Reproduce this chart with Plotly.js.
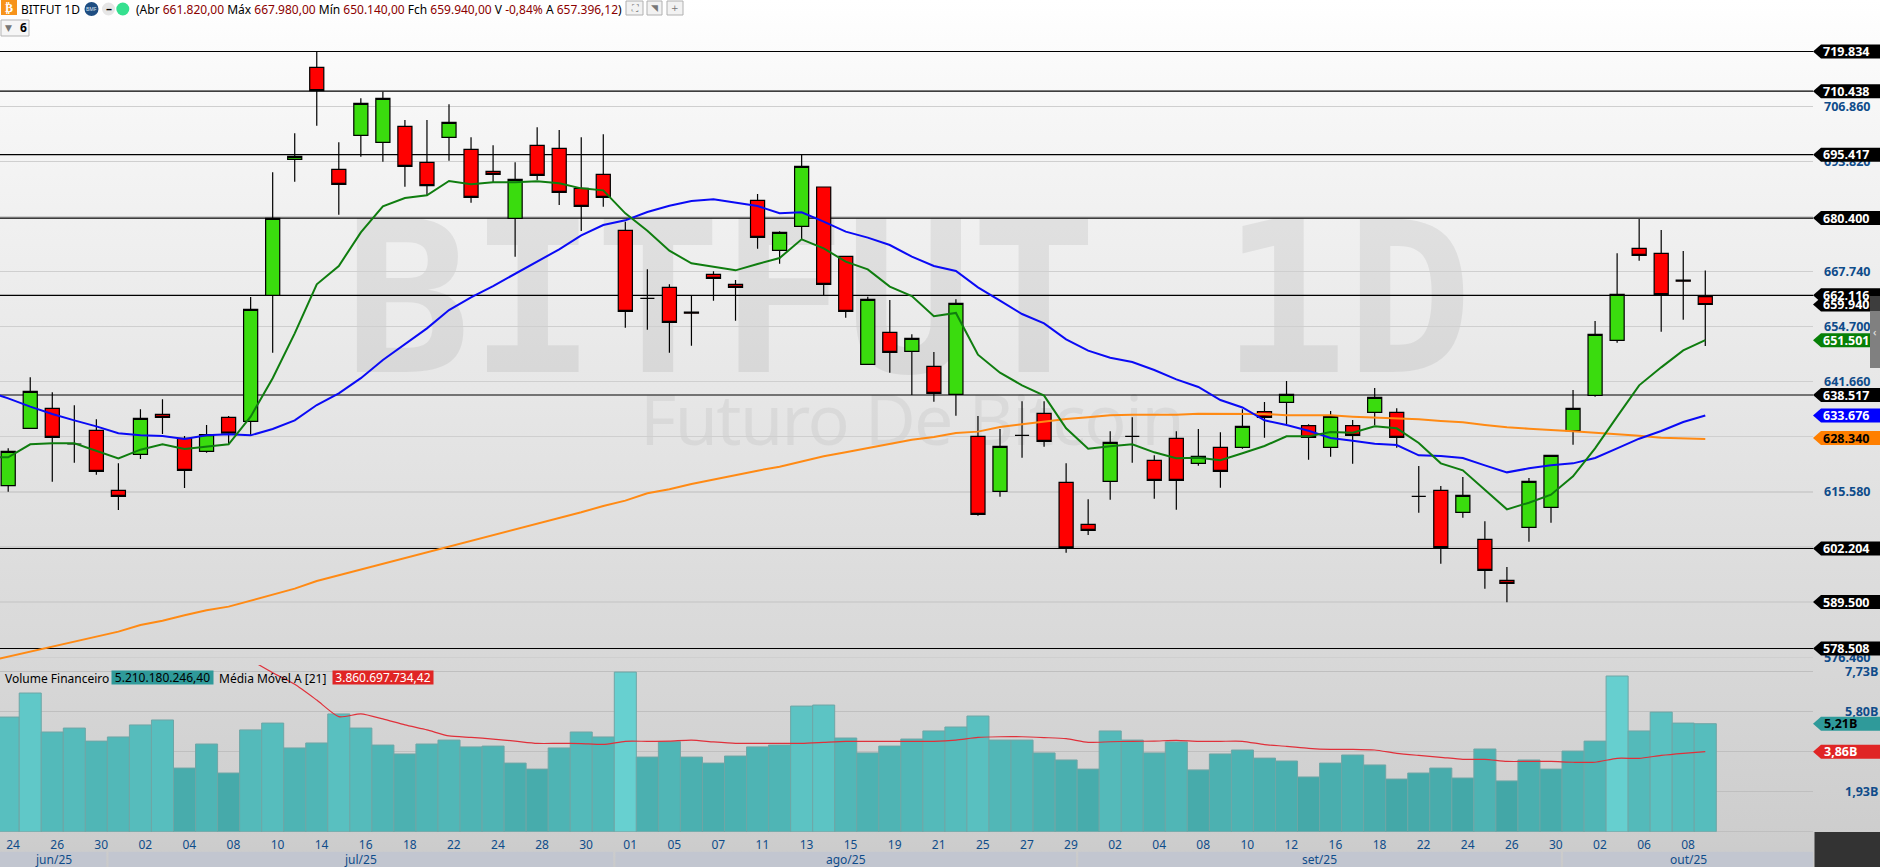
<!DOCTYPE html>
<html>
<head>
<meta charset="utf-8">
<script src="https://cdn.plot.ly/plotly-3.0.1.min.js"></script>
<style>
html,body{margin:0;padding:0;width:1880px;height:867px;overflow:hidden;background:linear-gradient(to bottom,#ffffff 0px,#f6f6f6 120px,#eeeeee 260px,#e4e4e4 440px,#d9d9d9 640px,#cdcdcd 840px,#cacaca 867px);}
#wm1,#wm2{position:absolute;white-space:nowrap;line-height:1;pointer-events:none;}
#wm1{left:344px;top:194px;font:bold 211px/1 "DejaVu Sans Mono";letter-spacing:-1.8px;color:rgba(0,0,0,0.065);}
#wm2{left:640px;top:383px;font:70px/1 "Noto Sans";letter-spacing:-1.65px;color:rgba(0,0,0,0.05);}
#chart{position:absolute;left:0;top:0;width:1880px;height:867px;}
</style>
</head>
<body>
<div id="wm1">BITFUT 1D</div>
<div id="wm2">Futuro De Bitcoin</div>
<div id="chart"></div>
<script>
const opens=[617.06,630.63,635.36,626.92,630.16,615.95,624.47,633.94,628.26,625.18,633.23,632.29,662.12,694.31,716.09,691.94,699.99,698.33,702.12,693.60,699.52,696.68,691.47,680.34,697.62,696.91,687.44,690.76,677.50,661.40,664.01,658.15,667.09,664.72,684.60,672.77,678.45,687.76,671.35,645.79,653.36,648.86,645.31,638.68,628.74,615.72,628.98,634.19,617.85,607.91,618.09,628.74,623.06,628.27,622.35,626.14,626.14,634.60,636.78,631.26,626.13,631.26,634.41,634.41,614.53,615.95,610.74,604.35,594.64,607.19,611.92,630.07,638.44,651.46,673.24,672.05,665.70,661.82];
const highs=[625.89,642.70,639.15,636.07,632.76,622.34,635.13,637.49,628.81,631.42,633.55,661.72,691.23,700.47,719.80,698.33,708.75,710.33,703.62,703.62,707.33,699.52,697.62,693.60,701.89,701.25,699.52,700.23,679.55,668.27,664.72,662.04,667.80,665.74,686.10,677.27,695.34,687.76,671.35,661.80,661.02,652.89,648.70,661.17,633.55,630.48,637.03,637.03,622.35,613.83,629.92,633.24,624.24,629.92,630.48,629.69,635.13,636.86,641.83,631.60,634.73,632.60,640.17,635.36,621.71,616.97,619.10,608.61,597.80,618.87,624.23,639.70,656.04,672.05,680.18,677.58,672.61,667.98];
const lows=[615.64,630.60,618.00,622.50,619.66,611.30,623.37,629.29,616.50,624.87,626.90,629.05,648.54,689.02,702.28,681.21,694.94,693.76,687.84,685.87,693.99,684.05,688.79,671.27,689.42,683.50,677.34,683.10,654.46,653.99,648.54,650.20,660.85,656.12,673.16,669.61,675.37,662.12,656.83,645.60,643.81,638.53,636.95,633.63,609.96,614.46,623.69,626.29,601.20,605.38,613.75,622.51,613.98,611.38,621.80,616.59,625.82,628.42,631.65,623.21,623.92,622.26,631.34,626.05,610.66,598.59,609.48,592.67,589.44,603.80,608.30,626.76,638.12,650.91,670.32,653.51,656.35,650.14];
const closes=[625.18,639.39,628.50,626.92,620.45,614.53,632.99,633.23,620.69,629.13,629.50,658.80,680.34,695.02,710.57,688.39,707.57,708.75,692.65,688.08,703.07,685.31,690.76,689.58,690.52,686.50,683.18,685.31,658.33,661.40,655.72,657.90,666.14,664.01,675.84,677.03,692.65,664.72,658.33,661.17,648.63,651.94,638.92,660.23,610.28,626.37,628.98,627.56,602.31,606.49,627.32,628.74,618.32,618.32,624.01,620.46,631.11,633.23,638.68,628.50,633.47,628.97,637.97,628.50,614.53,602.38,614.76,597.01,593.93,618.08,624.23,635.36,652.88,662.35,671.58,662.27,665.45,659.94];
// the three averages begin one session before the first visible candle
const maGreen=[623.76,623.76,626.84,627.08,627.08,625.26,623.53,625.58,626.84,625.74,626.37,626.84,633.39,642.50,653.12,664.72,669.06,677.03,683.18,685.16,685.79,689.18,688.39,688.87,688.87,689.10,688.63,687.44,686.97,681.53,677.42,672.69,669.69,668.90,668.03,669.53,670.95,675.37,673.24,670.08,668.27,664.17,661.96,657.15,657.94,648.07,643.81,640.81,638.37,630.63,625.82,626.37,626.85,624.95,623.53,623.69,623.06,624.72,626.45,628.73,628.73,629.76,629.60,631.10,630.63,627.15,622.34,620.68,616.03,611.45,613.03,614.92,619.26,625.89,633.39,640.81,645.07,649.09,651.50];
const maBlue=[639.47,637.73,635.76,634.02,632.52,631.10,629.45,628.97,628.81,628.10,628.97,629.21,628.97,630.47,632.52,636.15,638.91,642.50,646.81,650.50,654.30,658.64,661.64,664.32,667.17,670.08,673.00,676.32,678.76,679.87,681.84,683.34,684.45,684.84,684.13,683.26,681.53,681.76,679.55,677.19,675.77,674.03,671.27,669.06,667.87,664.00,660.85,657.70,655.49,651.70,649.02,647.36,646.34,644.44,642.23,640.42,637.34,635.56,632.52,631.41,630.07,628.34,627.71,627.00,626.68,624.23,624.08,623.60,621.87,620.21,621.16,621.87,622.34,623.60,625.89,628.18,629.99,632.12,633.68];
const maOrange=[575.40,576.58,577.77,578.87,580.21,581.39,582.50,584.08,585.10,586.37,587.55,588.42,589.84,591.34,592.68,594.49,595.83,597.26,598.68,599.86,601.28,602.70,603.96,605.30,606.72,607.99,609.33,610.75,612.25,613.51,615.25,616.19,617.46,618.56,619.51,620.61,621.56,622.82,624.01,624.95,625.98,626.93,627.95,628.58,629.53,629.85,630.95,631.58,632.21,632.84,633.24,633.71,633.87,633.87,633.87,634.11,634.11,634.11,634.02,633.70,633.70,633.70,633.39,633.23,632.99,632.76,632.36,632.05,631.41,630.86,630.55,630.15,629.92,629.60,629.29,628.89,628.42,628.26,628.10];
const volumes=[5.53,6.69,4.81,5.00,4.37,4.57,5.15,5.39,3.07,4.23,2.83,4.91,5.24,4.04,4.28,5.68,5.00,4.18,3.75,4.23,4.42,4.09,4.13,3.31,3.02,4.04,4.81,4.57,7.70,3.60,4.34,3.60,3.31,3.65,4.09,4.18,6.06,6.11,4.52,3.80,4.13,4.47,4.86,5.05,5.58,4.42,4.42,3.80,3.46,3.02,4.86,4.42,3.80,4.33,2.98,3.75,3.94,3.55,3.41,2.64,3.31,3.70,3.22,2.54,2.83,3.07,2.59,3.99,2.45,3.46,3.02,3.89,4.37,7.51,4.86,5.77,5.24,5.21];
const volMA=[null,null,null,null,null,null,null,null,null,null,null,8.28,7.67,7.11,6.35,5.55,5.68,5.44,5.15,4.91,4.62,4.55,4.47,4.37,4.26,4.26,4.25,4.21,4.36,4.36,4.37,4.42,4.33,4.26,4.26,4.26,4.26,4.31,4.36,4.36,4.36,4.36,4.36,4.42,4.55,4.58,4.58,4.54,4.49,4.31,4.34,4.36,4.37,4.41,4.36,4.36,4.36,4.20,4.12,4.02,3.97,3.97,3.94,3.78,3.68,3.59,3.49,3.49,3.39,3.39,3.39,3.35,3.35,3.54,3.54,3.68,3.78,3.86];
const dayLabels=["24","26","30","02","04","08","10","14","16","18","22","24","28","30","01","05","07","11","13","15","19","21","25","27","29","02","04","08","10","12","16","18","22","24","26","30","02","06","08"];
const monthLabels=["jun/25","jul/25","ago/25","set/25","out/25"];
const monthStarts=[0,5,28,49,71];
const priceTicks=[706.86,693.82,680.78,667.74,654.70,641.66,628.62,615.58,602.54,589.50,576.46];
const priceTickText=["706.860","693.820","","667.740","654.700","641.660","","615.580","","","576.460"];
const volTicks=[1.93,3.86,5.80,7.73];
const volTickText=["1,93B","","5,80B","7,73B"];
const levels=[719.834,710.438,695.417,680.4,662.116,638.517,602.204,589.5,578.508];
const levelText=["719.834","710.438","695.417","680.400","662.116","638.517","602.204","589.500","578.508"];

const W=1880,H=867,PW=1813,STEP=22.04,X0=8.2;
const px=v=>v/W, py=v=>1-v/H;
const idx=closes.map((_,i)=>i);
const lineX=[-1].concat(idx);
const blue='#0f4c8a';
const shapes=[],annotations=[];
const ann=(x,y,text,o={})=>annotations.push(Object.assign({xref:'paper',yref:'paper',x:px(x),y:py(y),text,showarrow:false,xanchor:'left',yanchor:'middle',borderpad:0,font:{family:'Noto Sans',size:12,color:'#000'}},o));
const rect=(x0,y0,x1,y1,fill,line)=>shapes.push({type:'rect',xref:'paper',yref:'paper',x0:px(x0),x1:px(x1),y0:py(y0),y1:py(y1),fillcolor:fill,line:line?{color:line,width:1}:{width:0},layer:'above'});
const circ=(cx,cy,r,fill)=>shapes.push({type:'circle',xref:'paper',yref:'paper',x0:px(cx-r),x1:px(cx+r),y0:py(cy-r),y1:py(cy+r),fillcolor:fill,line:{width:0},layer:'above'});

// horizontal levels
levels.forEach(v=>shapes.push({type:'line',xref:'paper',yref:'y',x0:0,x1:px(PW),y0:v,y1:v,line:{color:'#000',width:1.2},layer:'below'}));

// right-hand price tags
const tag=(v,yref,txt,fill,color,cx)=>{
  shapes.push({type:'path',xref:'paper',yref,xsizemode:'pixel',ysizemode:'pixel',xanchor:px(PW),yanchor:v,path:'M0 0 L8 7 L67 7 L67 -7 L8 -7 Z',fillcolor:fill,line:{width:0},layer:'above'});
  annotations.push({xref:'paper',yref,x:px(cx),y:v,text:txt,showarrow:false,xanchor:'center',yanchor:'middle',borderpad:0,font:{family:'Open Sans',size:12.5,weight:'bold',color}});
};
levels.forEach((v,i)=>tag(v,'y',levelText[i],'#000','#fff',1846));
tag(659.94,'y','659.940','#000','#fff',1846);
tag(651.501,'y','651.501','#078007','#fff',1846);
tag(633.676,'y','633.676','#0000ff','#fff',1846);
tag(628.34,'y','628.340','#ff7f00','#000',1846);
tag(5.21,'y2','5,21B','#2f9a9a','#000',1840);
tag(3.86,'y2','3,86B','#e02525','#fff',1840);

// month bands
monthLabels.forEach((m,i)=>{
  const a=i===0?-0.372:monthStarts[i]-0.45;
  const b=i===monthLabels.length-1?81.89:monthStarts[i+1]-0.55;
  shapes.push({type:'rect',xref:'x',yref:'paper',x0:a,x1:b,y0:0,y1:py(851.7),fillcolor:'#c2c6d0',line:{width:0},layer:'above'});
  annotations.push({xref:'x',yref:'paper',x:(a+b)/2,y:py(859.5),text:m,showarrow:false,xanchor:'center',yanchor:'middle',borderpad:0,font:{family:'Noto Sans',size:12,color:blue}});
});

// corner block and scroll handle
rect(1814.5,832,1880,867,'#333333');
rect(1870,296,1880,368,'#808080');
rect(1870,296,1880,311,'#3d3d3d');
ann(1872,332,'‹',{font:{family:'Noto Sans',size:11,color:'#e8e8e8'}});

// header
rect(1,0,17,15,'#f7931a');
ann(9,7.5,'₿',{xanchor:'center',font:{family:'DejaVu Sans',size:12,weight:'bold',color:'#fff'}});
ann(20,9,'BITFUT 1D',{font:{family:'Noto Sans',size:12,color:'#000'}});
circ(91.5,9,7,'#1f4e82');
ann(91.5,9,'BMF',{xanchor:'center',font:{family:'Noto Sans',size:5,color:'#dfe8f2'}});
circ(108.5,9,6.5,'#e6e6e6');
ann(108.5,8.5,'–',{xanchor:'center',font:{family:'Noto Sans',size:12,weight:'bold',color:'#000'}});
circ(122.8,9,6.5,'#35e08f');
const r=s=>'<span style="color:#8b0000">'+s+'</span>';
ann(135,9,'(Abr '+r('661.820,00')+' Máx '+r('667.980,00')+' Mín '+r('650.140,00')+' Fch '+r('659.940,00')+' V '+r('-0,84%')+' A '+r('657.396,12')+')',{font:{family:'Noto Sans',size:12,color:'#000'}});
[[626,643,'⛶'],[647,662,'◥'],[667,683,'+']].forEach(b=>{
  rect(b[0],1,b[1],15,'#f2f2f2','#b0b0b0');
  ann((b[0]+b[1])/2,8,b[2],{xanchor:'center',font:{family:'DejaVu Sans',size:9,color:'#777'}});
});
rect(1,20,29,36,'#f6f6f6','#b5b5b5');
ann(4,28,'▼',{font:{family:'DejaVu Sans',size:9,color:'#777'}});
ann(19,28,'6',{font:{family:'Noto Sans',size:12,weight:'bold',color:'#000'}});

// volume legend
ann(4,678,'Volume Financeiro',{font:{family:'Noto Sans',size:12,color:'#000'}});
ann(162.5,677.7,'5.210.180.246,40',{xanchor:'center',width:101,height:13,bgcolor:'#2f9a9a',font:{family:'Noto Sans',size:12,color:'#000'}});
ann(218,678,'Média Móvel A [21]',{font:{family:'Noto Sans',size:12,color:'#000'}});
ann(383,677.7,'3.860.697.734,42',{xanchor:'center',width:100,height:13,bgcolor:'#e02525',font:{family:'Noto Sans',size:12,color:'#fff'}});

const cs={line:{color:'#000',width:1.2}};
const traces=[
 {type:'bar',x:idx,y:volumes,xaxis:'x',yaxis:'y2',width:1,marker:{color:volumes,colorscale:[[0,'#43a7a7'],[1,'#67d0d0']],cmin:2.4,cmax:7.7,line:{color:'#6fa6a6',width:1}},hoverinfo:'skip',showlegend:false},
 {type:'scatter',mode:'lines',x:idx,y:volMA,xaxis:'x',yaxis:'y2',line:{color:'#e0303a',width:1.2,shape:'spline',smoothing:0.6},hoverinfo:'skip',showlegend:false},
 {type:'candlestick',x:idx,open:opens,high:highs,low:lows,close:closes,xaxis:'x',yaxis:'y',whiskerwidth:0,
  increasing:Object.assign({fillcolor:'#3adc0e'},cs),decreasing:Object.assign({fillcolor:'#ff0000'},cs),hoverinfo:'skip',showlegend:false},
 {type:'scatter',mode:'lines',x:lineX,y:maOrange,xaxis:'x',yaxis:'y',line:{color:'#ff8a14',width:2},hoverinfo:'skip',showlegend:false},
 {type:'scatter',mode:'lines',x:lineX,y:maBlue,xaxis:'x',yaxis:'y',line:{color:'#0a0af5',width:2},hoverinfo:'skip',showlegend:false},
 {type:'scatter',mode:'lines',x:lineX,y:maGreen,xaxis:'x',yaxis:'y',line:{color:'#0f7d0f',width:2},hoverinfo:'skip',showlegend:false}
];
const layout={
 width:W,height:H,margin:{l:0,r:0,t:0,b:0},paper_bgcolor:'rgba(0,0,0,0)',plot_bgcolor:'rgba(0,0,0,0)',showlegend:false,
 boxgap:0.36,boxgroupgap:0,bargap:0,dragmode:false,
 xaxis:{domain:[0,PW/W],range:[(0-X0)/STEP,(PW-X0)/STEP],anchor:'y2',showgrid:false,zeroline:false,showline:false,rangeslider:{visible:false},
   tickmode:'array',tickvals:dayLabels.map((_,i)=>2*i+0.22),ticktext:dayLabels,ticks:'',tickangle:0,ticklabelstandoff:4,
   tickfont:{family:'Noto Sans',size:12,color:blue},fixedrange:true},
 yaxis:{domain:[py(665),py(30)],range:[732.03-0.23673*665,732.03-0.23673*30],side:'right',anchor:'x',tickmode:'array',tickvals:priceTicks,ticktext:priceTickText,
   gridcolor:'#cfcfcf',gridwidth:1.2,zeroline:false,showline:false,ticks:'',ticklabelstandoff:10,
   tickfont:{family:'Open Sans',size:12.5,weight:'bold',color:blue},fixedrange:true},
 yaxis2:{domain:[py(831.7),py(665)],range:[0,(831.7-665)/20.73],side:'right',anchor:'x',tickmode:'array',tickvals:volTicks,ticktext:volTickText,
   gridcolor:'#bfbfbf',gridwidth:1.2,zeroline:true,zerolinecolor:'#bfbfbf',showline:false,ticks:'',ticklabelstandoff:31,
   tickfont:{family:'Open Sans',size:12.5,weight:'bold',color:blue},fixedrange:true},
 shapes,annotations
};
Plotly.newPlot('chart',traces,layout,{staticPlot:true,displayModeBar:false});
</script>
</body>
</html>
